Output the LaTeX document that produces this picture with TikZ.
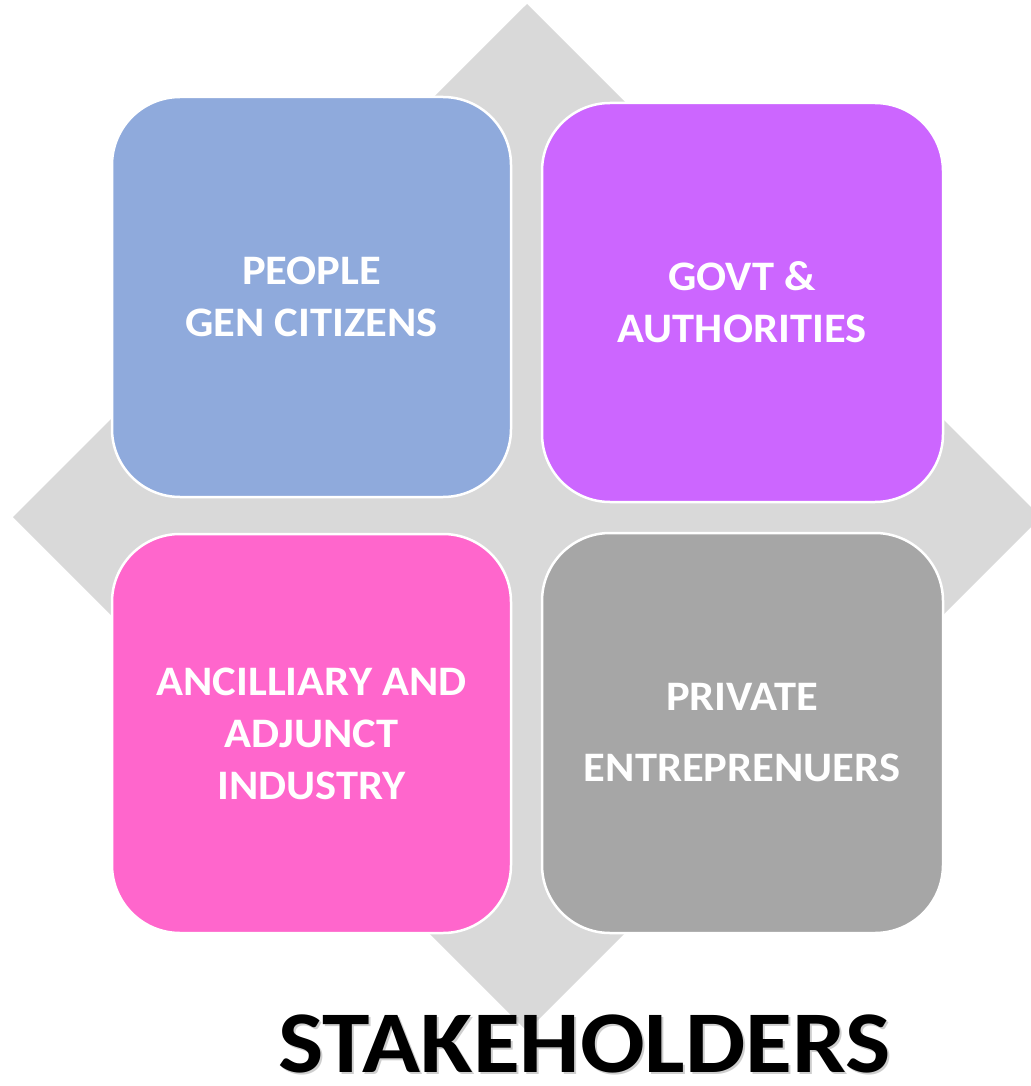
\documentclass[tikz,border=0pt]{standalone}
\usepackage{fontspec}
\setmainfont{Carlito}
\definecolor{diamondgray}{HTML}{D9D9D9}
\definecolor{peopleblue}{HTML}{8FAADC}
\definecolor{govtpurple}{HTML}{CC66FF}
\definecolor{ancpink}{HTML}{FF66CC}
\definecolor{privgray}{HTML}{A6A6A6}
\begin{document}
\begin{tikzpicture}[x=1pt,y=-1pt,
  tile/.style={draw=white,line width=2.5pt,rounded corners=68pt},
  tiletext/.style={text=white,align=center,font=\fontsize{42}{52}\selectfont\bfseries,inner sep=0pt,xscale=1.06},
  titletext/.style={font=\fontsize{88}{96}\selectfont\bfseries,inner sep=0pt,anchor=base,xscale=1.088}]
\useasboundingbox (0,0) rectangle (1030,1086);
% background diamond
\fill[diamondgray] (527,4) coordinate (dtop) -- (1041,517) coordinate (dright)
  -- (527,1031) coordinate (dbottom) -- (13,517) coordinate (dleft) -- cycle;
% tiles
\draw[tile,fill=peopleblue] (112,97) rectangle (511,497);
\draw[tile,fill=govtpurple] (542,103) rectangle (943,502);
\draw[tile,fill=ancpink] (112,534) rectangle (511,933);
\draw[tile,fill=privgray] (542,533) rectangle (943,933);
% texts
\node[tiletext] (people) at (311.5,297) {PEOPLE\\GEN CITIZENS};
\node[tiletext] (govt) at (742,302.5) {GOVT \&\\AUTHORITIES};
\node[tiletext] (anc) at (311.5,733.5) {ANCILLIARY AND\\ADJUNCT\\INDUSTRY};
\node[tiletext] (priv) at (742,733) {PRIVATE\\[19pt]ENTREPRENUERS};
% title
\node[titletext,text=black!35,opacity=0.55] (titleshadow) at (586.5,1074) {STAKEHOLDERS};
\node[titletext,text=black] (title) at (584.5,1072) {STAKEHOLDERS};
\end{tikzpicture}
\end{document}
